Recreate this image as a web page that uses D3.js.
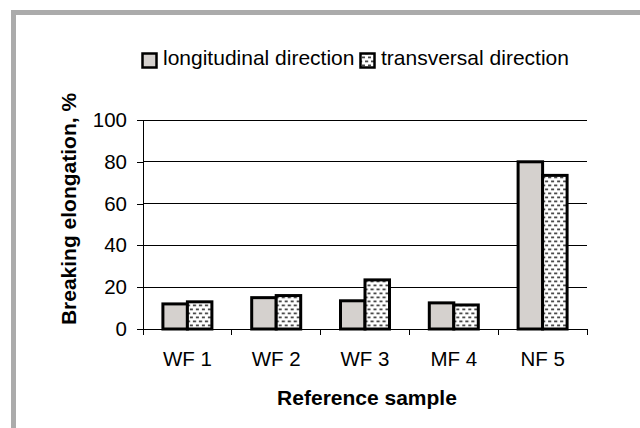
<!DOCTYPE html>
<html><head><meta charset="utf-8">
<script src="https://cdn.jsdelivr.net/npm/d3@7"></script>
<style>html,body{margin:0;padding:0;background:#fff;}svg{display:block;}</style>
</head><body>
<script>
const categories = ["WF 1","WF 2","WF 3","MF 4","NF 5"];
const longitudinal = [12, 15, 13.5, 12.5, 80];
const transversal = [13, 16, 23.5, 11.5, 73.5];
const seriesNames = ["longitudinal direction","transversal direction"];
const yTicks = [0,20,40,60,80,100];

(function(){
const W=640,H=428;
const svg=d3.select("body").append("svg").attr("width",W).attr("height",H);
const font="'Liberation Sans', Arial, sans-serif";

const defs=svg.append("defs");
const pat=defs.append("pattern").attr("id","dots").attr("patternUnits","userSpaceOnUse")
  .attr("width",6).attr("height",8);
pat.append("rect").attr("width",6).attr("height",8).attr("fill","#fff");
pat.append("rect").attr("x",0).attr("y",0.5).attr("width",3.2).attr("height",1.8).attr("fill","#4a4a4a");
pat.append("rect").attr("x",3).attr("y",4.5).attr("width",3.2).attr("height",1.8).attr("fill","#4a4a4a");

// outer frame
svg.append("rect").attr("x",13.5).attr("y",12.5).attr("width",W).attr("height",H)
  .attr("fill","none").attr("stroke","#ababab").attr("stroke-width",5);

const pLeft=143,pRight=587,pTop=120,pBottom=329;
const x0=d3.scaleBand().domain(categories).range([pLeft,pRight]).paddingInner(0).paddingOuter(0);
const groupW=49;
const x1=d3.scaleBand().domain(seriesNames).range([0,groupW]);
const y=d3.scaleLinear().domain([0,100]).range([pBottom,pTop]);

// gridlines
svg.append("g").selectAll("line").data(yTicks.filter(d=>d>0)).join("line")
  .attr("x1",pLeft).attr("x2",pRight).attr("y1",d=>y(d)).attr("y2",d=>y(d))
  .attr("stroke","#000").attr("stroke-width",1).attr("shape-rendering","crispEdges");

// y axis
const yAxis=svg.append("g").attr("transform",`translate(${pLeft},0)`)
  .call(d3.axisLeft(y).tickValues(yTicks).tickSize(6).tickPadding(10));
yAxis.select(".domain").attr("stroke","#000");
yAxis.selectAll("text").attr("font-family",font).attr("font-size",20.5).attr("fill","#000");
yAxis.attr("shape-rendering","crispEdges");

// x axis line & ticks
svg.append("line").attr("x1",pLeft).attr("x2",pRight).attr("y1",pBottom).attr("y2",pBottom)
  .attr("stroke","#000").attr("shape-rendering","crispEdges");
const bounds=categories.map(c=>x0(c)).concat([pRight]);
svg.append("g").selectAll("line").data(bounds).join("line")
  .attr("x1",d=>d).attr("x2",d=>d).attr("y1",pBottom).attr("y2",pBottom+6)
  .attr("stroke","#000").attr("shape-rendering","crispEdges");
svg.append("g").selectAll("text").data(categories).join("text")
  .attr("x",d=>x0(d)+x0.bandwidth()/2).attr("y",366)
  .attr("text-anchor","middle").attr("font-family",font).attr("font-size",20.5).text(d=>d);

// bars
const data=categories.map((c,i)=>({c,vals:[{s:seriesNames[0],v:longitudinal[i]},{s:seriesNames[1],v:transversal[i]}]}));
const g=svg.append("g").selectAll("g").data(data).join("g")
  .attr("transform",d=>`translate(${x0(d.c)+x0.bandwidth()/2-groupW/2},0)`);
g.selectAll("rect").data(d=>d.vals).join("rect")
  .attr("x",d=>x1(d.s)).attr("width",x1.bandwidth())
  .attr("y",d=>y(d.v)).attr("height",d=>pBottom-y(d.v))
  .attr("fill",d=>d.s===seriesNames[0]?"#d5d1ce":"url(#dots)")
  .attr("stroke","#000").attr("stroke-width",3);

// axis titles
svg.append("text").attr("transform","translate(76,209) rotate(-90)")
  .attr("text-anchor","middle").attr("font-family",font).attr("font-weight","bold")
  .attr("font-size",21).text("Breaking elongation, %");
svg.append("text").attr("x",367).attr("y",405).attr("text-anchor","middle")
  .attr("font-family",font).attr("font-weight","bold").attr("font-size",21).text("Reference sample");

// legend
const legX=[141,359];
const leg=svg.append("g").selectAll("g").data(seriesNames).join("g")
  .attr("transform",(d,i)=>`translate(${legX[i]},52)`);
leg.append("rect").attr("x",1.5).attr("y",1.5).attr("width",14).attr("height",14)
  .attr("fill",(d,i)=>i===0?"#d5d1ce":"url(#dots)").attr("stroke","#000").attr("stroke-width",2.5);
leg.append("text").attr("x",22).attr("y",12.5).attr("font-family",font).attr("font-size",21).text(d=>d);
})();
</script>
</body></html>
